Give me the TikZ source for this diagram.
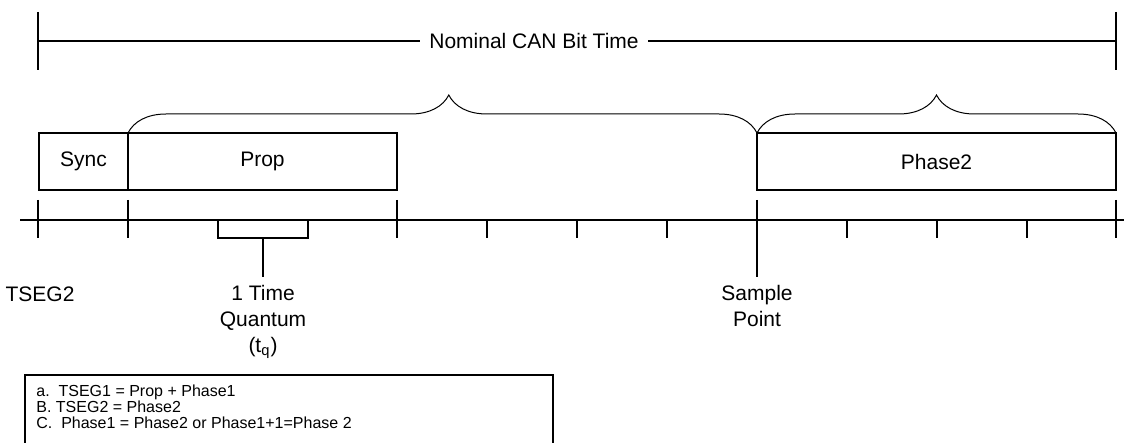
\documentclass[tikz,border=0pt]{standalone}
\usepackage{fontspec}
\setmainfont{Liberation Sans}
\usetikzlibrary{decorations.pathreplacing, positioning}

\begin{document}
\begin{tikzpicture}[x=0.5pt, y=-0.5pt,
    every node/.style={font=\fontsize{10.5}{13}\selectfont},
    heavy/.style={line width=1.3pt},
    segbox/.style={draw, heavy, rectangle, minimum height=28.5pt, inner sep=0pt, outer sep=0pt, anchor=north west},
    bracetop/.style={decorate, decoration={brace, amplitude=19pt}, line width=0.5pt}]
    \useasboundingbox (0,0) rectangle (1125,443);
    \clip (0,0) rectangle (1125,443);

    % Nominal bit time
    \coordinate (bitL) at (38,41);
    \coordinate (bitR) at (1116,41);
    \draw[heavy] (bitL) -- (bitR);
    \draw[heavy] (38,12) -- (38,70);
    \draw[heavy] (1116,12) -- (1116,70);
    \node[fill=white, inner xsep=4.5pt] (bittime) at (534,41) {Nominal CAN Bit Time};

    % Segments
    \node[segbox, minimum width=44.5pt] (sync) at (39,133) {Sync};
    \node[segbox, minimum width=134.5pt] (prop) at (128,133) {Prop};
    \node[segbox, minimum width=179.5pt] (phase) at (757,133) {Phase2};

    % Braces
    \draw[bracetop, decoration={aspect=0.51}] (prop.north west) -- (phase.north west);
    \draw[bracetop] (phase.north west) -- (phase.north east);

    % Time axis
    \coordinate (axL) at (20,220);
    \coordinate (axR) at (1124,220);
    \draw[heavy] (axL) -- (axR);
    \foreach \x in {38,128,397,1116}
        \draw[heavy] (\x,200) -- (\x,238);
    \foreach \x in {487,577,667,847,937,1027}
        \draw[heavy] (\x,220) -- (\x,238);

    % Time quantum
    \draw[heavy] (218,220) -- (218,238) -- (308,238) -- (308,220);
    \coordinate (tqstem) at (263,238);
    \node[below, align=center, inner sep=4pt] (tq) at (263,277) {1 Time\\Quantum\\(t\textsubscript{q})};
    \draw[heavy] (tqstem) -- (tq.north);

    % Sample point
    \coordinate (sptop) at (757,200);
    \node[below, align=center, inner sep=4pt] (sample) at (757,277) {Sample\\Point};
    \draw[heavy] (sptop) -- (sample.north);

    % TSEG2
    \node (tseg) at (40,294.5) {TSEG2};

    % Notes
    \draw[line width=1.2pt] (25,375) rectangle (553,470);
    \node[anchor=north west, align=left, inner sep=0pt, font=\fontsize{8}{8}\selectfont] (notes) at (36,385)
        {a.\ \ TSEG1 = Prop + Phase1\\B. TSEG2 = Phase2\\C.\ \ Phase1 = Phase2 or Phase1+1=Phase 2};
\end{tikzpicture}
\end{document}
